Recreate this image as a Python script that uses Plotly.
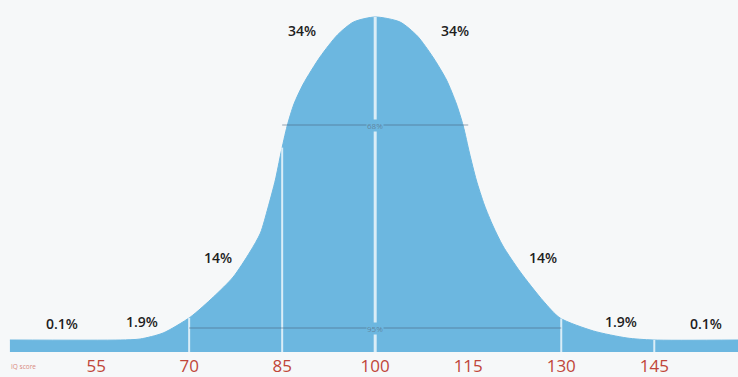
import numpy as np
import plotly.graph_objects as go

# curve outline: IQ score vs height of the blue area
iq = [41.1, 58.9, 62.1, 65.8, 70.2, 73.9, 77.1, 79.8, 81.5, 82.7, 83.9, 84.8, 85.8,
      86.9, 88.4, 91.1, 93.9, 96.5, 100.0,
      104.0, 106.8, 109.4, 111.5, 113.1, 114.2, 115.2, 116.3, 117.6, 119.0, 120.6,
      123.4, 127.1, 129.8, 135.2, 140.6, 144.8, 158.6]
height = [12, 12, 13, 19, 35, 55, 75, 100, 119, 144, 172, 199, 226,
          248, 268, 295, 317, 330, 335,
          330, 316, 294, 272, 248, 226, 199, 172, 147, 126, 106,
          80, 51, 34, 21, 14, 12, 12]

tick_scores = [55, 70, 85, 100, 115, 130, 145]
divider_scores = [70, 85, 100, 130, 145]

band_labels = ['0.1%', '1.9%', '14%', '34%', '34%', '14%', '1.9%', '0.1%']
range_labels = ['68%', '95%']
range_bounds = [(85, 115), (70, 130)]

fill_color = '#6cb7e0'
bg = '#f6f8f9'
red = '#c0463a'

fig = go.Figure()
fig.add_trace(go.Scatter(x=iq, y=height, mode='lines', fill='tozeroy',
                         fillcolor=fill_color,
                         line=dict(color=fill_color, width=1, shape='spline', smoothing=0.7),
                         hoverinfo='skip', showlegend=False))

shapes = []
# white dividers inside the curve
for s in divider_scores:
    top = float(np.interp(s, iq, height))
    w = 3 if s == 100 else 2
    shapes.append(dict(type='line', x0=s, x1=s, y0=0, y1=top, xref='x', yref='y',
                       line=dict(color='rgba(255,255,255,0.75)', width=w)))

# 68% / 95% range lines
range_y = [227, 24]
for (lo, hi), yv in zip(range_bounds, range_y):
    shapes.append(dict(type='line', x0=lo, x1=hi, y0=yv, y1=yv, xref='x', yref='y',
                       line=dict(color='rgba(70,95,120,0.55)', width=1)))

annotations = []
for (lo, hi), yv, t in zip(range_bounds, range_y, range_labels):
    annotations.append(dict(x=(lo + hi) / 2, y=yv, text=t, showarrow=False,
                            font=dict(size=8, color='rgba(90,110,130,0.7)', family='Open Sans'),
                            bgcolor=fill_color, borderpad=0))

label_x = [49.5, 62.4, 74.7, 88.2, 112.9, 127.1, 139.7, 153.4]
label_y = [29, 31, 95, 322, 322, 95, 31, 29]
for t, xv, yv in zip(band_labels, label_x, label_y):
    annotations.append(dict(x=xv, y=yv, text=t, showarrow=False,
                            font=dict(size=14, color='#1e1e1e', family='Open Sans', weight=600)))

annotations.append(dict(x=0.012, y=-0.04, xref='paper', yref='paper', text='IQ score',
                        xanchor='left', yanchor='middle', showarrow=False,
                        font=dict(size=6.5, color='#d88a80', family='Open Sans')))

fig.update_layout(
    width=738, height=377,
    margin=dict(l=0, r=0, t=0, b=25),
    paper_bgcolor=bg, plot_bgcolor=bg,
    shapes=shapes, annotations=annotations,
    xaxis=dict(range=[39.5, 158.5], tickvals=tick_scores, ticktext=[str(v) for v in tick_scores],
               tickfont=dict(size=17, color=red, family='Open Sans'),
               ticklabelstandoff=2,
               showgrid=False, zeroline=False, showline=False, ticks=''),
    yaxis=dict(range=[0, 352], visible=False, showgrid=False),
)

# page body has an 8px default margin; drop it so the chart fills the window
fig.write_html('out.html', config={'displayModeBar': False},
               post_script="document.body.style.margin='0';")
